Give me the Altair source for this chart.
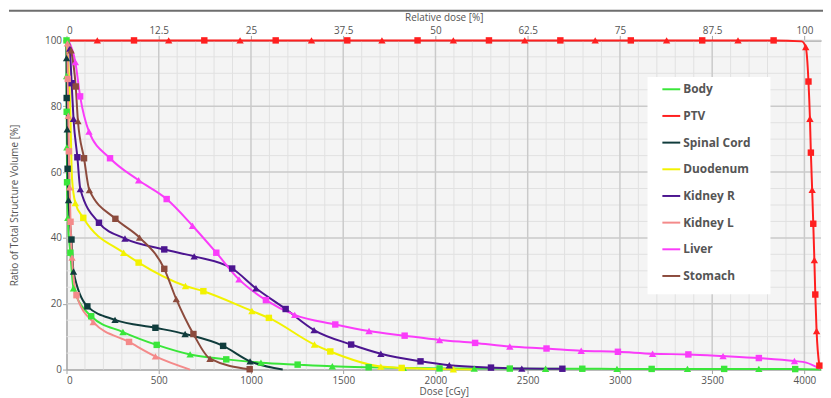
import altair as alt
import pandas as pd

SERIES = ["Body", "PTV", "Spinal Cord", "Duodenum", "Kidney R", "Kidney L", "Liver", "Stomach"]

BODY_DOSE = [0, 0.5, 1, 2, 3, 7, 21, 38, 134, 306, 489, 670, 866, 1054, 1253, 1441, 1638, 1826, 2022,
             2210, 2403, 2597, 2796, 2984, 3172, 3366, 3565, 3753, 3950, 4090]
BODY_VOL = [100, 89.2, 78.3, 67.5, 56.9, 46.1, 35.5, 24.7, 16.2, 11.4, 7.5, 4.6, 3.1, 2.1, 1.5, 1.0, 0.7, 0.5, 0.35,
            0.3, 0.3, 0.25, 0.25, 0.2, 0.2, 0.2, 0.2, 0.2, 0.15, 0]

PTV_DOSE = [0, 167, 366, 554, 747, 941, 1134, 1328, 1522, 1710, 1903, 2097, 2290, 2484, 2677, 2866, 3059,
            3253, 3446, 3640, 3833, 3985, 4007, 4022, 4030, 4035, 4042, 4048, 4054, 4059, 4066, 4081]
PTV_VOL = [100, 100, 100, 100, 100, 100, 100, 100, 100, 100, 100, 100, 100, 100, 100, 100, 100,
           100, 100, 100, 100, 99.7, 98.0, 87.5, 76.2, 65.9, 54.6, 44.3, 33.3, 22.8, 11.7, 1.2]

SPINAL_DOSE = [0, 0.5, 1, 4, 6, 11, 27, 38, 113, 263, 482, 643, 849, 995, 1172]
SPINAL_VOL = [100, 94.6, 82.5, 73.0, 61.0, 51.5, 39.5, 29.8, 19.2, 15.1, 12.7, 10.8, 7.2, 2.5, 0]

DUODENUM_DOSE = [0, 20, 30, 48, 91, 310, 391, 645, 742, 1005, 1097, 1344, 1430, 1704, 1817, 2097, 2200]
DUODENUM_VOL = [100, 80, 58, 50.6, 46.1, 35.5, 32.5, 25.4, 23.8, 17.8, 15.7, 7.6, 5.5, 0.9, 0.5, 0.1, 0]

KIDNEY_R_DOSE = [10, 18, 28, 38, 59, 75, 176, 317, 530, 692, 898, 1027, 1188, 1342, 1543, 1704, 1919,
                 2075, 2301, 2468, 2688]
KIDNEY_R_VOL = [100, 97.5, 87.0, 76.2, 64.5, 54.8, 44.6, 39.8, 36.5, 34.4, 30.7, 24.7, 18.4, 12.0, 7.6, 4.8, 2.5,
                1.3, 0.6, 0.3, 0.25]

KIDNEY_L_DOSE = [5, 7, 10, 13, 17, 22, 30, 54, 145, 339, 482, 670]
KIDNEY_L_VOL = [99.1, 88.3, 77.1, 66.3, 55.4, 44.9, 34.0, 22.6, 14.4, 8.4, 4.0, 0]

LIVER_DOSE = [10, 48, 74, 122, 236, 391, 543, 683, 812, 935, 1081, 1237, 1457, 1640, 1833, 2022, 2215, 2403,
              2602, 2790, 2989, 3177, 3371, 3559, 3753, 3946, 4010, 4085]
LIVER_VOL = [100, 93.4, 83.0, 72.3, 64.2, 57.5, 51.8, 43.7, 35.5, 27.4, 21.1, 16.6, 13.7, 11.7, 10.3, 9.0, 8.1, 7.0,
             6.4, 5.7, 5.4, 4.8, 4.6, 4.1, 3.5, 2.6, 2.1, 0.2]

STOMACH_DOSE = [5, 25, 50, 62, 95, 124, 265, 396, 530, 595, 688, 778, 993]
STOMACH_VOL = [100, 97.0, 86.0, 75.5, 64.2, 54.5, 45.8, 40.1, 30.6, 21.4, 10.8, 3.3, 0.1]

X_TICKS = [0, 500, 1000, 1500, 2000, 2500, 3000, 3500, 4000]
Y_TICKS = [0, 20, 40, 60, 80, 100]
X_MINOR = [100, 200, 300, 400, 600, 700, 800, 900, 1100, 1200, 1300, 1400, 1600, 1700, 1800, 1900,
           2100, 2200, 2300, 2400, 2600, 2700, 2800, 2900, 3100, 3200, 3300, 3400, 3600, 3700, 3800, 3900]
Y_MINOR = [5, 10, 15, 25, 30, 35, 45, 50, 55, 65, 70, 75, 85, 90, 95]

DATA = {
    "Body": (BODY_DOSE, BODY_VOL),
    "PTV": (PTV_DOSE, PTV_VOL),
    "Spinal Cord": (SPINAL_DOSE, SPINAL_VOL),
    "Duodenum": (DUODENUM_DOSE, DUODENUM_VOL),
    "Kidney R": (KIDNEY_R_DOSE, KIDNEY_R_VOL),
    "Kidney L": (KIDNEY_L_DOSE, KIDNEY_L_VOL),
    "Liver": (LIVER_DOSE, LIVER_VOL),
    "Stomach": (STOMACH_DOSE, STOMACH_VOL),
}

# style: colour, indices of points drawn without a marker, shape of the first marker
STYLE = {
    "Body": ("#3ae63a", [29], "square"),
    "PTV": ("#ff1f1f", [0, 21], "triangle-up"),
    "Spinal Cord": ("#103c3c", [0, 14], "triangle-up"),
    "Duodenum": ("#f2f200", [0, 1, 2, 16], "triangle-up"),
    "Kidney R": ("#4c1590", [0], "triangle-up"),
    "Kidney L": ("#f48a8a", [11], "triangle-up"),
    "Liver": ("#fa3cfa", [0, 26, 27], "triangle-up"),
    "Stomach": ("#8c4b3d", [0], "triangle-up"),
}

line_rows, mark_rows = [], []
for s in SERIES:
    doses, vols = DATA[s]
    _, unmarked, first = STYLE[s]
    other = "square" if first == "triangle-up" else "triangle-up"
    k = 0
    for i, (d, v) in enumerate(zip(doses, vols)):
        line_rows.append({"series": s, "dose": d, "vol": v})
        if i not in unmarked:
            shape = first if k % 2 == 0 else other
            k += 1
            mark_rows.append({"series": s, "dose": d, "vol": v, "shape": shape})

lines_df = pd.DataFrame(line_rows)
marks_df = pd.DataFrame(mark_rows)

FONT = "Open Sans"
LABEL_COLOR = "#555555"
AXIS_COLOR = "#a3a3a3"

xscale = alt.Scale(domain=[0, 4090], nice=False, zero=False)
yscale = alt.Scale(domain=[0, 100], nice=False)
cscale = alt.Scale(domain=SERIES, range=[STYLE[s][0] for s in SERIES])

minor_x = alt.Chart(pd.DataFrame({"g": X_MINOR})).mark_rule(color="#e1e1e1", strokeWidth=1).encode(
    x=alt.X("g:Q", scale=xscale, axis=None))
minor_y = alt.Chart(pd.DataFrame({"g": Y_MINOR})).mark_rule(color="#e1e1e1", strokeWidth=1).encode(
    y=alt.Y("g:Q", scale=yscale, axis=None))
major_x = alt.Chart(pd.DataFrame({"g": X_TICKS[1:]})).mark_rule(color="#cacaca", strokeWidth=1.5).encode(
    x=alt.X("g:Q", scale=xscale, axis=None))
major_y = alt.Chart(pd.DataFrame({"g": Y_TICKS[1:]})).mark_rule(color="#cacaca", strokeWidth=1.5).encode(
    y=alt.Y("g:Q", scale=yscale, axis=None))

bottom_axis = alt.Axis(values=X_TICKS, grid=False, orient="bottom", format="d", domainColor=AXIS_COLOR,
                       domainWidth=1.5, tickColor=AXIS_COLOR, tickSize=4, labelPadding=2, labelFont=FONT,
                       labelFontSize=10, labelColor=LABEL_COLOR, title="Dose [cGy]", titleFont=FONT,
                       titleFontSize=10, titleFontWeight="normal", titleColor=LABEL_COLOR, titlePadding=1)
left_axis = alt.Axis(values=Y_TICKS, grid=False, orient="left", domainColor=AXIS_COLOR, domainWidth=1.5,
                     tickColor=AXIS_COLOR, tickSize=4, labelPadding=1, labelFont=FONT, labelFontSize=10,
                     labelColor=LABEL_COLOR, title="Ratio of Total Structure Volume [%]", titleFont=FONT,
                     titleFontSize=10, titleFontWeight="normal", titleColor=LABEL_COLOR, titlePadding=25)
top_axis = alt.Axis(values=X_TICKS, grid=False, orient="top", domainColor=AXIS_COLOR, domainWidth=1.5,
                    tickColor=AXIS_COLOR, tickSize=5, labelPadding=0, labelFont=FONT, labelFontSize=10,
                    labelColor=LABEL_COLOR, labelExpr="'' + (datum.value / 40)",
                    title="Relative dose [%]", titleFont=FONT, titleFontSize=10,
                    titleFontWeight="normal", titleColor=LABEL_COLOR, titlePadding=3)

legend = alt.Legend(title=None, orient="none", legendX=600, legendY=39.3, padding=0,
                    symbolType="stroke", symbolSize=324, symbolStrokeWidth=2,
                    labelFont=FONT, labelFontSize=12, labelFontWeight="bold", labelColor=LABEL_COLOR,
                    labelOffset=2, rowPadding=10.9)

legend_box = alt.Chart(alt.Data(values=[{}])).mark_rect(color="white").encode(
    x=alt.value(586), x2=alt.value(710), y=alt.value(37), y2=alt.value(256))

lines = alt.Chart(lines_df).mark_line(interpolate="monotone", strokeWidth=2).encode(
    x=alt.X("dose:Q", scale=xscale, axis=bottom_axis),
    y=alt.Y("vol:Q", scale=yscale, axis=left_axis),
    color=alt.Color("series:N", scale=cscale, legend=legend),
)

markers = alt.Chart(marks_df).mark_point(filled=True, opacity=1).encode(
    x=alt.X("dose:Q", scale=xscale, axis=top_axis),
    y=alt.Y("vol:Q", scale=yscale, axis=None),
    color=alt.Color("series:N", scale=cscale, legend=None),
    shape=alt.Shape("shape:N", scale=alt.Scale(domain=["square", "triangle-up"], range=["square", "triangle-up"]),
                    legend=None),
    size=alt.Size("shape:N", scale=alt.Scale(domain=["square", "triangle-up"], range=[42, 55]), legend=None),
)

top_rule = alt.Chart(alt.Data(values=[{}])).mark_rule(color="#6e6e6e", strokeWidth=2).encode(
    x=alt.value(-58), x2=alt.value(764), y=alt.value(-30))

chart = alt.layer(minor_x, minor_y, major_x, major_y, lines, markers, legend_box, top_rule).resolve_axis(
    x="independent", y="independent"
).properties(
    width=761, height=332,
    autosize=alt.AutoSizeParams(type="none"),
    padding={"left": 59, "top": 31, "right": 2, "bottom": 27},
    background="white",
).configure_view(fill="#f4f4f4", stroke=None)

chart.save("out.html", embed_options={"renderer": "svg", "actions": False})
